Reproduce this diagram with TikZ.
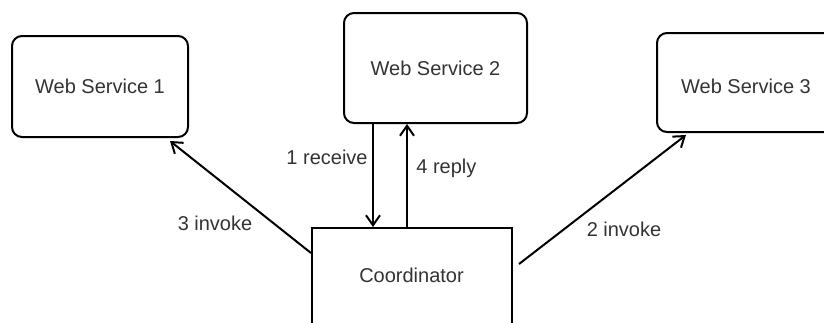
\documentclass[tikz,border=0pt]{standalone}
\usepackage{fontspec}
\setmainfont{Liberation Sans}
\usetikzlibrary{arrows.meta}
\definecolor{txt}{HTML}{333333}
\begin{document}
\begin{tikzpicture}[x=0.5pt,y=-0.5pt,
  svc/.style={draw=black, line width=1pt, rounded corners=5pt, text=txt,
    font=\fontsize{10}{12}\selectfont, inner sep=0pt},
  coordbox/.style={draw=black, line width=1pt, text=txt,
    font=\fontsize{10}{12}\selectfont, inner sep=0pt},
  conn/.style={line width=1pt, -{Straight Barb[length=5pt,width=7pt,line width=1pt]}},
  lbl/.style={text=txt, font=\fontsize{10}{12}\selectfont, inner sep=0pt}]
\clip (0,0) rectangle (824,322);
% services
\node[svc, minimum width=88pt, minimum height=50.5pt] (ws1) at (100,86.5) {Web Service 1};
\node[svc, minimum width=91.5pt, minimum height=55pt] (ws2) at (435.5,68) {Web Service 2};
\node[svc, minimum width=89pt, minimum height=49.5pt] (ws3) at (746,82.5) {};
\node[lbl] (ws3txt) at (746,86.5) {Web Service 3};
% coordinator (runs past the lower edge)
\node[coordbox, minimum width=100pt, minimum height=60pt] (coord) at (412,288) {};
\node[lbl] (coordtxt) at (411.5,275) {Coordinator};
% message flows
\draw[conn] ([yshift=-13pt]coord.north west) -- ([xshift=-9.5pt,yshift=-1.5pt]ws1.south east);
\draw[conn] ([xshift=3pt,yshift=-18.5pt]coord.north east) -- ([xshift=15pt,yshift=-1pt]ws3.south west);
\draw[conn] ([xshift=15pt]ws2.south west) -- ([xshift=15pt]ws2.south west |- coord.north);
\draw[conn] ([xshift=32pt]ws2.south west |- coord.north) -- ([xshift=32pt]ws2.south west);
% labels
\node[lbl, anchor=east] (l1) at (368,157) {1 receive};
\node[lbl, anchor=west] (l4) at (416,168) {4 reply};
\node[lbl] (l3) at (215,223) {3 invoke};
\node[lbl] (l2) at (624,229) {2 invoke};
\end{tikzpicture}
\end{document}
